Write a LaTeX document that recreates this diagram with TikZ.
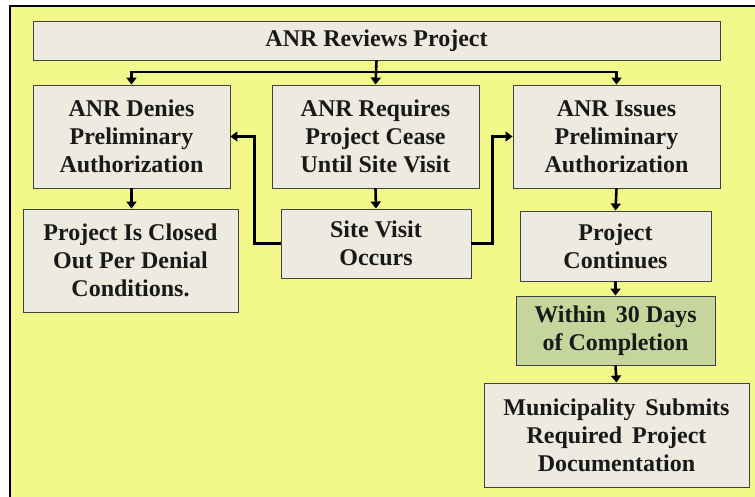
\documentclass[tikz,border=0pt]{standalone}
\usepackage{fontspec}
\setmainfont{Liberation Serif}
\usetikzlibrary{arrows.meta}
\definecolor{bgyellow}{HTML}{F2F98A}
\definecolor{boxfill}{HTML}{EDEAE0}
\definecolor{boxgreen}{HTML}{C4D69C}
\definecolor{boxline}{HTML}{404040}
\tikzset{
  stepbox/.style={draw=boxline, line width=0.9pt, fill=boxfill, rectangle, align=center,
    inner sep=0pt, font=\fontsize{24}{28}\selectfont\bfseries, text=black!90},
  arr/.style={line width=2.6pt, -{Triangle[length=7pt,width=10pt]}},
  ln/.style={line width=2.6pt}
}
\begin{document}
\begin{tikzpicture}[x=1pt,y=-1pt]
\useasboundingbox (0,0) rectangle (755,497);
\fill[white] (0,0) rectangle (755,497);
\draw[fill=bgyellow, line width=2.6pt] (10,6) rectangle (770,510);
\node[stepbox, minimum width=687pt, minimum height=39pt] (top) at (376.5,40.5) {ANR Reviews Project};
\node[stepbox, minimum width=197pt, minimum height=103pt] (deny) at (131.5,136.5) {ANR Denies\\Preliminary\\Authorization};
\node[stepbox, minimum width=207pt, minimum height=103pt] (cease) at (375.5,136.5) {ANR Requires\\Project Cease\\Until Site Visit};
\node[stepbox, minimum width=207pt, minimum height=103pt] (issue) at (616.5,136.5) {ANR Issues\\Preliminary\\Authorization};
\node[stepbox, minimum width=215pt, minimum height=103pt] (closed) at (130.5,260.5) {Project Is Closed\\Out Per Denial\\Conditions.};
\node[stepbox, minimum width=190pt, minimum height=69pt] (visit) at (376,243.5) {Site Visit\\Occurs};
\node[stepbox, minimum width=191pt, minimum height=70pt] (cont) at (615.5,246) {Project\\Continues};
\node[stepbox, fill=boxgreen, minimum width=199pt, minimum height=69pt] (green) at (615.5,330.5) {Within\ \,30 Days\\of Completion};
\node[stepbox, minimum width=265pt, minimum height=104pt] (muni) at (616.5,435) {Municipality\ \,Submits\\Required\ \,Project\\Documentation};
\coordinate (bus) at (376,72);
\draw[arr] (top.south) -- (cease.north);
\draw[arr] (bus) -| (deny.north);
\draw[arr] (bus) -| (issue.north);
\draw[arr] (deny.south) -- (deny.south |- closed.north);
\draw[arr] (cease.south) -- (visit.north);
\draw[arr] (visit.west) -- ++(-26,0) |- (deny.east);
\draw[arr] (visit.east) -- ++(21,0) |- (issue.west);
\draw[arr] (issue.south) -- (cont.north);
\draw[arr] (cont.south) -- (green.north);
\draw[arr] (green.south) -- (muni.north);
\end{tikzpicture}
\end{document}
